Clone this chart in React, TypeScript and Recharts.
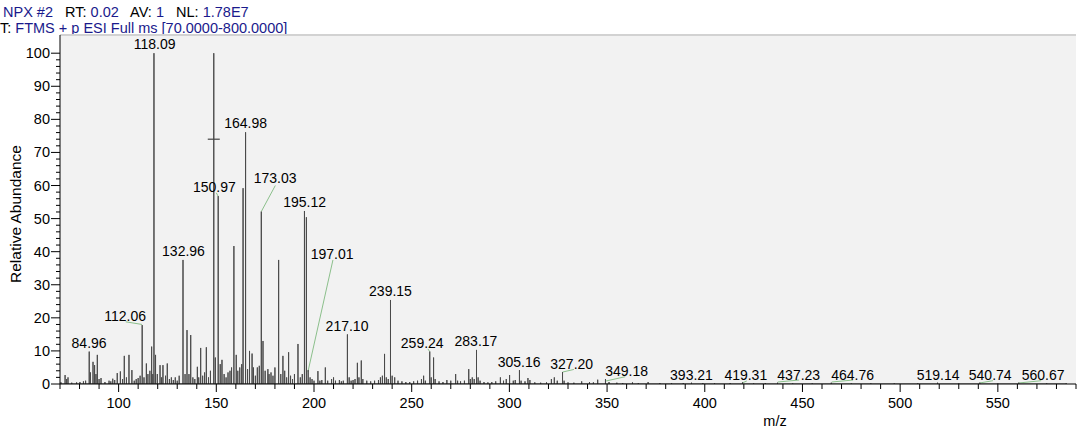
import React from 'react';
import { ComposedChart, Line, Scatter, XAxis, YAxis, CartesianGrid, ReferenceLine } from 'recharts';

// ---- data: stick spectrum [m/z, relative abundance] ----
const peaks: [number, number][] = [
  [70.5, 0.5], [72.6, 2.7], [73.4, 1.5], [74.1, 2.0], [76.0, 0.4], [78.5, 0.5], [80.2, 0.6], [82.0, 0.8], [83.1, 1.0],
  [84.96, 9.8], [85.6, 3.5], [86.9, 6.7], [87.7, 5.7], [88.4, 3.0], [89.1, 8.8], [90.0, 1.5], [91.0, 1.8], [93.0, 0.6],
  [95.1, 1.0], [96.0, 0.8], [97.0, 1.6], [98.0, 1.2], [99.3, 3.3], [100.9, 3.8], [102.0, 1.5], [102.9, 8.5], [104.0, 2.0],
  [105.3, 8.8], [106.8, 4.2], [108.0, 1.0], [109.0, 1.5], [110.0, 1.8], [111.0, 2.5], [112.06, 17.8], [113.0, 2.0],
  [114.2, 6.2], [115.0, 3.0], [116.0, 4.0], [116.9, 11.3], [117.5, 3.0], [118.09, 100], [118.9, 8.8], [119.8, 3.0],
  [121.2, 5.7], [122.0, 2.0], [122.7, 5.7], [124.0, 2.5], [124.9, 6.2], [126.0, 1.5], [127.0, 2.0], [128.0, 1.2],
  [129.0, 2.0], [130.0, 1.0], [131.0, 2.5], [132.96, 37.5], [134.0, 3.0], [135.0, 16.3], [136.0, 3.0], [136.9, 14.8],
  [138.0, 2.0], [139.0, 1.5], [140.3, 5.2], [141.0, 2.0], [142.0, 10.9], [143.0, 2.5], [144.0, 3.5], [144.9, 11.1],
  [146.0, 2.0], [147.0, 4.0], [148.7, 100], [149.5, 8.0], [150.97, 56.8], [152.0, 6.0], [152.9, 7.3], [154.0, 3.0],
  [155.0, 2.0], [156.0, 3.5], [157.0, 4.0], [157.8, 5.0], [159.0, 41.7], [160.2, 8.8], [161.0, 4.0], [162.0, 5.0],
  [163.0, 6.0], [163.7, 59.2], [164.98, 76.1], [166.0, 4.5], [167.0, 10.0], [168.3, 9.2], [169.0, 5.0], [170.0, 2.5],
  [171.0, 5.0], [172.0, 5.5], [173.03, 52.1], [173.9, 13.0], [175.0, 4.0], [176.4, 4.5], [177.0, 3.0], [178.0, 3.5],
  [179.0, 2.5], [180.0, 5.0], [181.9, 37.5], [183.0, 3.0], [184.1, 8.5], [185.0, 4.0], [186.0, 2.0], [187.0, 9.6],
  [188.0, 2.5], [189.0, 1.5], [190.0, 3.0], [191.8, 12.1], [193.0, 2.0], [194.0, 3.0], [195.12, 52.3], [196.1, 50.4],
  [197.01, 4.2], [198.0, 2.0], [199.0, 1.5], [200.0, 1.0], [202.0, 3.9], [203.0, 1.0], [204.0, 1.2], [205.8, 5.0],
  [207.0, 1.0], [209.0, 1.5], [210.0, 2.0], [211.0, 1.0], [213.0, 1.2], [214.0, 0.8], [215.0, 1.0], [217.1, 15.0],
  [218.0, 2.0], [219.0, 1.0], [220.0, 1.2], [221.0, 1.5], [222.2, 6.4], [223.0, 2.0], [224.2, 7.1], [225.0, 1.5],
  [227.0, 1.0], [229.0, 0.8], [231.0, 1.0], [233.0, 1.2], [234.0, 2.0], [235.0, 2.5], [236.1, 9.1], [237.0, 2.0],
  [238.0, 1.5], [239.15, 25.4], [240.0, 2.5], [241.3, 2.0], [243.0, 1.0], [245.0, 0.8], [247.0, 0.6], [249.0, 0.6],
  [251.0, 0.8], [253.0, 1.0], [255.0, 1.5], [256.1, 2.5], [257.0, 1.0], [259.24, 9.8], [260.0, 2.0], [261.2, 8.0],
  [262.0, 1.5], [264.0, 0.8], [266.0, 0.6], [268.0, 1.2], [270.0, 1.0], [272.5, 3.0], [273.5, 1.0], [275.0, 0.8],
  [277.0, 1.0], [279.2, 4.5], [280.0, 1.5], [281.0, 2.0], [282.0, 1.5], [283.17, 10.3], [284.0, 2.0], [285.0, 1.0],
  [287.0, 0.6], [289.0, 0.5], [291.0, 0.6], [293.0, 0.8], [295.4, 2.0], [297.0, 1.0], [298.4, 1.5], [300.1, 2.7],
  [302.0, 1.0], [303.0, 1.2], [305.16, 4.2], [306.0, 1.0], [308.0, 0.8], [309.5, 1.8], [310.5, 1.2], [313.0, 0.5],
  [316.0, 0.4], [319.0, 0.5], [321.5, 1.5], [323.0, 2.0], [324.5, 1.0], [327.2, 3.6], [328.0, 1.0], [330.0, 0.5],
  [333.0, 0.4], [337.0, 0.8], [341.0, 0.6], [343.0, 0.5], [345.2, 1.3], [349.18, 1.5], [351.0, 0.6], [355.0, 0.4],
  [358.0, 0.3], [363.0, 0.5], [366.0, 0.3], [371.0, 0.6], [377.0, 0.3], [383.0, 0.3], [389.0, 0.3], [393.21, 0.4],
  [399.0, 0.3], [405.0, 0.3], [413.0, 0.3], [419.31, 0.5], [425.0, 0.2], [431.0, 0.3], [437.23, 0.4], [445.0, 0.2],
  [455.0, 0.2], [464.76, 0.4], [475.0, 0.2], [485.0, 0.2], [497.0, 0.2], [509.0, 0.2], [519.14, 0.4], [530.0, 0.2],
  [540.74, 0.4], [550.0, 0.2], [560.67, 0.4], [575.0, 0.2], [585.0, 0.2],
];

// labelled peaks (text)
const labelTexts = [
  '118.09', '164.98', '150.97', '173.03', '195.12', '132.96', '197.01', '239.15', '217.10', '112.06', '84.96',
  '259.24', '283.17', '305.16', '327.20', '349.18', '393.21', '419.31', '437.23', '464.76', '519.14', '540.74', '560.67',
];
// label anchor placement in data units [m/z, abundance]
const labelAnchors: [number, number][] = [
  [118.4, 102.8], [164.98, 79.0], [149.0, 59.7], [180.1, 62.2], [195.2, 55.1], [133.2, 40.2], [209.3, 39.3],
  [239.15, 28.1], [216.9, 17.6], [103.3, 20.6], [84.9, 12.5], [255.4, 12.3], [282.9, 13.0], [305.0, 6.7],
  [331.9, 5.9], [360.0, 3.9], [393.2, 2.8], [421.0, 2.8], [448.1, 2.8], [475.7, 2.8], [519.4, 2.8], [546.1, 2.8], [573.2, 2.8],
];
// leader lines [m/z1, ab1, m/z2, ab2]
const leaders: [number, number, number, number][] = [
  [150.0, 57.8, 150.9, 56.8], [180.2, 60.0, 173.0, 52.1], [209.7, 37.5, 196.9, 3.7], [103.6, 18.8, 112.0, 18.0],
  [258.3, 10.6, 259.24, 9.8], [327.2, 3.6, 333.0, 4.4], [349.4, 0.9, 359.3, 2.2], [419.5, 0.4, 421.5, 0.9],
  [437.4, 0.6, 448.3, 1.2], [465.0, 0.6, 475.9, 1.2], [540.6, 0.3, 547.5, 1.0], [560.6, 0.3, 572.2, 1.0],
];
// marker on the 148.7 peak
const markers: [number, number][] = [[148.7, 74.0]];

const xTicks = Array.from({ length: 53 }, (_, i) => 70 + i * 10);
const yTicks = Array.from({ length: 51 }, (_, i) => i * 2);
const X_DOMAIN: [number, number] = [70, 590];
const Y_MAX = 105.5;

const stickData = peaks.flatMap(([mz, ab]) => [{ mz, ab: 0 }, { mz, ab }, { mz, ab: 0 }]);
const labelData = labelTexts.map((t, i) => ({ mz: labelAnchors[i][0], ab: labelAnchors[i][1], text: t }));
const markerData = markers.map(([mz, ab]) => ({ mz, ab }));

const FONT = '"Liberation Sans", Arial, sans-serif';
const TICK_FS = 14.5;

const YTick = (props: any) => {
  const { x, y, payload } = props;
  const v = payload.value;
  const major = v % 10 === 0;
  return (
    <g>
      <line x1={x} x2={x - (major ? 9 : 4)} y1={y} y2={y} stroke="#000" strokeWidth={1} />
      {major && (
        <text x={x - 10} y={y} textAnchor="end" dominantBaseline="central" fontSize={TICK_FS} fontFamily={FONT} fill="#000">
          {v}
        </text>
      )}
    </g>
  );
};

const XTick = (props: any) => {
  const { x, y, payload } = props;
  const v = payload.value;
  const major = v % 50 === 0;
  return (
    <g>
      <line x1={x} x2={x} y1={y} y2={y + (major ? 8 : 5)} stroke="#000" strokeWidth={1} />
      {major && (
        <text x={x} y={y + 18.5} textAnchor="middle" dominantBaseline="central" fontSize={TICK_FS} fontFamily={FONT} fill="#000">
          {v}
        </text>
      )}
    </g>
  );
};

const LabelShape = (props: any) => {
  const { cx, cy, payload } = props;
  return (
    <text x={cx} y={cy} textAnchor="middle" dominantBaseline="central" fontSize={14} fontFamily={FONT} fill="#000">
      {payload.text}
    </text>
  );
};

const MarkerShape = (props: any) => {
  const { cx, cy } = props;
  return <line x1={cx - 6} x2={cx + 6} y1={cy} y2={cy} stroke="#444" strokeWidth={1.2} />;
};

const blue = '#1a1a8c';

export default function App() {
  return (
    <div style={{ position: 'absolute', left: 0, top: 0, width: 1084, height: 430, background: '#fff', fontFamily: FONT }}>
      <div style={{ position: 'absolute', left: 3, top: 3, fontSize: 14.5, whiteSpace: 'pre', color: '#000', lineHeight: '18px' }}>
        <span style={{ color: blue }}>NPX #2</span>{'   RT: '}<span style={{ color: blue }}>0.02</span>{'   AV: '}
        <span style={{ color: blue }}>1</span>{'   NL: '}<span style={{ color: blue }}>1.78E7</span>
      </div>
      <div style={{ position: 'absolute', left: 0, top: 18.5, fontSize: 14.5, whiteSpace: 'pre', color: '#000', lineHeight: '18px' }}>
        {'T: '}<span style={{ color: blue }}>FTMS + p ESI Full ms [70.0000-800.0000]</span>
      </div>
      <div
        style={{
          position: 'absolute', left: 16, top: 214, fontSize: 15.5, whiteSpace: 'pre',
          transform: 'translate(-50%, -50%) rotate(-90deg)', color: '#000',
        }}
      >
        Relative Abundance
      </div>
      <div style={{ position: 'absolute', left: 775, top: 421, fontSize: 14.5, transform: 'translate(-50%, -50%)', color: '#000' }}>
        m/z
      </div>
      <div style={{ position: 'absolute', left: 0, top: 0 }}>
        <ComposedChart width={1084} height={430} margin={{ top: 35, right: 8, left: 0, bottom: 0 }}>
          <CartesianGrid fill="#f2f2f2" stroke="none" horizontal={false} vertical={false} />
          <XAxis
            type="number"
            dataKey="mz"
            domain={X_DOMAIN}
            ticks={xTicks}
            interval={0}
            allowDataOverflow
            height={46}
            tickSize={0}
            tickMargin={0}
            tickLine={false}
            tick={<XTick />}
            axisLine={{ stroke: '#000', strokeWidth: 1 }}
          />
          <YAxis
            type="number"
            dataKey="ab"
            domain={[0, Y_MAX]}
            ticks={yTicks}
            interval={0}
            allowDataOverflow
            width={60}
            tickSize={0}
            tickMargin={0}
            tickLine={false}
            tick={<YTick />}
            axisLine={{ stroke: '#000', strokeWidth: 1 }}
          />
          <ReferenceLine y={Y_MAX} stroke="#d2d2d2" strokeWidth={2} />
          {leaders.map((l, i) => (
            <ReferenceLine
              key={i}
              segment={[{ x: l[0], y: l[1] }, { x: l[2], y: l[3] }]}
              stroke="#8cc08c"
              strokeWidth={1}
              ifOverflow="visible"
            />
          ))}
          <Line
            data={stickData}
            dataKey="ab"
            type="linear"
            stroke="#4a4a4a"
            strokeWidth={1}
            dot={false}
            activeDot={false}
            isAnimationActive={false}
          />
          <Scatter data={markerData} dataKey="ab" shape={<MarkerShape />} isAnimationActive={false} />
          <Scatter data={labelData} dataKey="ab" shape={<LabelShape />} isAnimationActive={false} />
        </ComposedChart>
      </div>
    </div>
  );
}
